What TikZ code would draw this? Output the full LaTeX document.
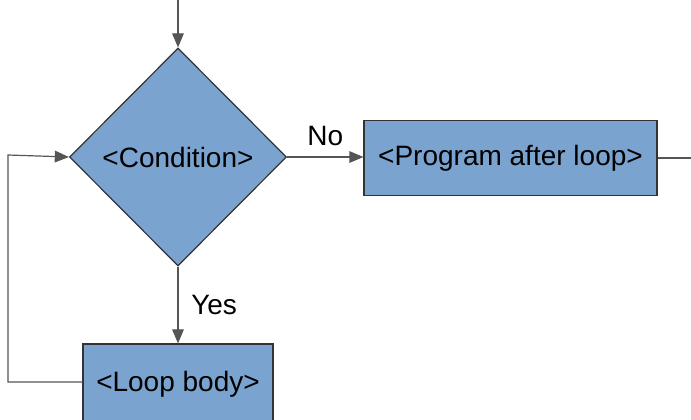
\documentclass[tikz,border=0pt]{standalone}
\usepackage{fontspec}
\setmainfont{Liberation Sans}
\usepackage{tikz}
\usetikzlibrary{arrows,shapes.geometric}

\definecolor{boxblue}{RGB}{122,163,207}
\definecolor{linegray}{RGB}{85,85,85}

\begin{document}
\begin{tikzpicture}[x=0.5pt,y=-0.5pt]

	\tikzstyle flow box=[draw=black!80, fill=boxblue, line width=0.6pt, inner sep=0pt, font=\fontsize{14}{17}\selectfont];
	\tikzstyle flow lines=[draw=linegray, line width=0.6pt];
	\tikzstyle flow arrow=[flow lines, -triangle 45];
	\tikzstyle flow label=[font=\fontsize{14}{17}\selectfont];

	\useasboundingbox (0,0) rectangle (691,419);

	% nodes
	\node[flow box, diamond, minimum width=108.5pt, minimum height=109pt] (cond) at (178,157) {<Condition>};
	\node[flow box, rectangle, minimum width=146.5pt, minimum height=37.5pt] (after) at (510.5,158) {<Program after loop>};
	\node[flow box, rectangle, minimum width=95pt, minimum height=40pt] (body) at (178,384) {<Loop body>};

	\coordinate (entry) at (178,0);
	\coordinate (exit) at (691,158);
	\coordinate (loopdown) at (8,382);
	\coordinate (loopup) at (8,155);

	% connectors
	\draw[flow arrow] (entry) -- (cond.north);
	\draw[flow arrow] (cond.east) -- node[flow label, above, yshift=2pt] (no) {No} (cond.east -| after.west);
	\draw[flow lines] (after.east |- exit) -- (exit);
	\draw[flow arrow] (cond.south) -- node[flow label, right, xshift=3pt] (yes) {Yes} (body.north -| cond.south);
	\draw[flow arrow] (body.west |- loopdown) -- (loopdown) -- (loopup) -- (cond.west);

\end{tikzpicture}
\end{document}
